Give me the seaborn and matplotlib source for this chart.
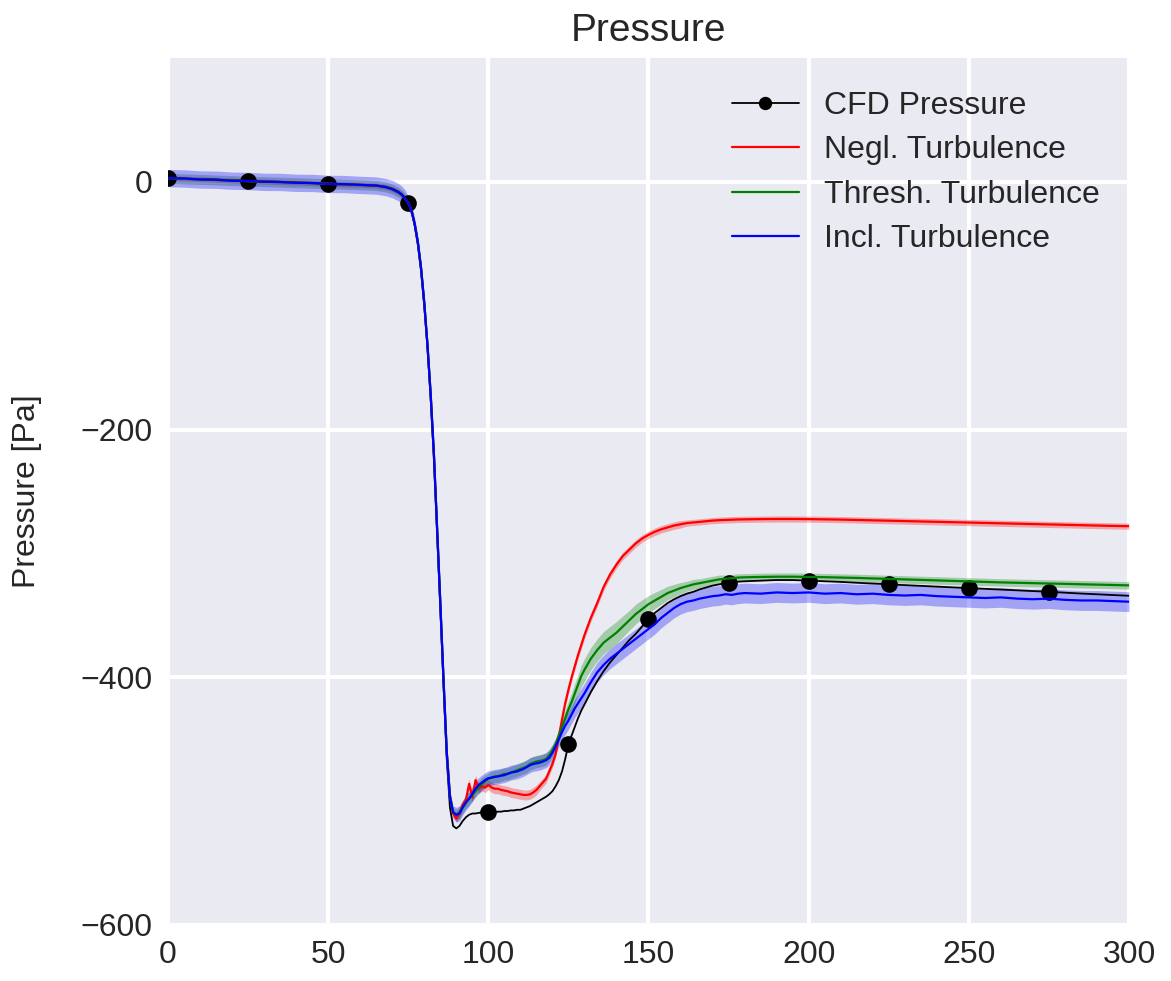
import matplotlib
matplotlib.use("Agg")
import matplotlib.pyplot as plt
import seaborn as sns
import pandas as pd

# Posição ao longo do domínio
x = [0, 5, 10, 15, 20, 25, 30, 35, 40, 45, 50, 55, 60, 65, 68, 70, 72, 73, 74,
     75, 76, 77, 78, 79, 80, 81, 82, 83, 84, 85, 86, 87, 88, 89, 90,
     91, 92, 93, 94, 95, 96, 97, 98, 99, 100, 101, 102, 103, 104, 105,
     106, 107, 108, 109, 110, 111, 112, 113, 114, 115, 116, 117, 118, 119, 120,
     121, 122, 123, 124, 125, 126, 127, 128, 129, 130,
     132, 134, 136, 138, 140, 142, 144, 146, 148, 150, 152, 154, 156, 158, 160,
     162, 164, 166, 168, 170, 172, 174, 175, 176, 178, 180,
     185, 190, 195, 200, 205, 210, 215, 220, 225, 230, 235, 240, 245, 250,
     255, 260, 265, 270, 275, 280, 285, 290, 295, 300]

cfd = [3, 2.6, 2.2, 1.8, 1.2, 0.8, 0.4, 0, -0.5, -1, -1.9, -2, -2.5, -3, -4, -5.5, -8, -10, -13,
       -17, -24, -35, -51, -72, -100, -134, -175, -222, -282, -343, -405, -465, -505, -520, -522,
       -520, -516, -513, -511, -510, -510, -509.5, -509, -509, -509, -509, -509, -508.5, -508.5, -508,
       -508, -507.5, -507.5, -507, -507, -506, -505, -504, -502.5, -501, -499.5, -498, -496.5, -494.5, -492,
       -488, -483, -476, -466, -454, -447, -440, -433, -427, -422,
       -412, -403, -395, -388, -382, -376, -370, -365, -359, -353, -348, -344, -340, -337, -334.5,
       -332.5, -331, -329, -327.5, -326, -325, -324, -323.6, -323.3, -322.8, -322.5,
       -322, -321.5, -321.5, -322, -322.5, -323, -323.7, -324.3, -325, -325.6, -326.2, -326.8, -327.4, -328,
       -328.6, -329.2, -329.8, -330.4, -331, -331.7, -332.4, -333, -333.6, -334.2]

negl = [3, 2.5, 2.1, 1.6, 1.1, 0.6, 0.2, -0.2, -0.6, -1, -1.6, -2, -2.4, -3, -4.2, -5.8, -8.5, -10.5, -13.5,
        -17, -23, -34, -49, -70, -98, -132, -172, -220, -280, -340, -402, -460, -495, -510, -514,
        -510, -503, -499, -486, -497, -483, -490, -488, -489, -487, -489, -490, -490, -491, -491.5,
        -492, -493, -493.5, -494, -494.5, -495, -495, -494.5, -493, -491, -488, -485, -482, -476, -470,
        -462, -448, -434, -421, -410, -400, -391, -382, -374, -366,
        -352, -340, -327, -317, -309, -302, -297, -292, -288, -285, -282.5, -280.5, -279, -277.5, -276.5,
        -275.5, -275, -274.5, -274, -273.5, -273.2, -273, -272.9, -272.8, -272.6, -272.5,
        -272.3, -272.2, -272.2, -272.3, -272.5, -272.7, -273, -273.3, -273.6, -273.9, -274.2, -274.5, -274.8, -275.1,
        -275.4, -275.7, -276, -276.3, -276.6, -276.9, -277.2, -277.5, -277.8, -278]

thresh = [3, 2.4, 2.0, 1.5, 1.0, 0.5, 0.1, -0.3, -0.7, -1.1, -1.6, -2, -2.4, -3, -4.2, -5.8, -8.5, -10.5, -13.5,
          -17, -23, -34, -49, -70, -98, -132, -172, -220, -280, -340, -402, -460, -496, -509, -511,
          -509, -505, -501, -498, -495, -492, -489, -486, -484, -482, -481, -480, -480, -479, -478,
          -478, -477, -476, -475, -474, -473, -472, -470, -469, -468, -467.5, -467, -466, -463, -459,
          -454, -447, -440, -433, -426, -420, -413, -406, -399, -394,
          -385, -378, -372, -368, -364, -359, -354, -349, -345, -341, -338, -335, -332, -330, -328,
          -326.5, -325, -324, -323, -322, -321, -320.5, -320.2, -320, -319.5, -319.3,
          -319, -318.8, -318.8, -319, -319.2, -319.5, -319.8, -320.2, -320.6, -321, -321.4, -321.8, -322.2, -322.6,
          -323, -323.4, -323.7, -324, -324.3, -324.6, -324.9, -325.2, -325.5, -325.8]

incl = [3, 2.7, 1.9, 1.7, 0.9, 0.7, 0.0, -0.1, -0.8, -0.9, -1.7, -1.8, -2.5, -3, -4.3, -5.9, -8.5, -10.5, -13.5,
        -17, -23, -34, -49, -70, -98, -132, -172, -220, -280, -340, -402, -460, -497, -509, -511,
        -510, -505, -501, -498, -494, -490, -487, -485, -483, -481.5, -481, -480.5, -480, -479.5, -479,
        -478, -477, -476.5, -476, -475, -474, -472.5, -471, -470, -469.5, -469, -468, -467, -465, -461,
        -456, -450, -444, -439, -435, -430, -425, -421, -417, -413,
        -404, -396, -390, -385, -381, -377, -373, -369, -365, -361, -357, -352, -348, -344, -341,
        -339, -338, -336.5, -335.5, -334.5, -334, -333, -333.2, -333.5, -332.5, -332,
        -332.5, -331.5, -332, -331.5, -332.5, -332, -333, -332.5, -333.5, -334, -333.5, -334.5, -335, -335.5,
        -336, -335.5, -336.5, -337, -336.5, -337.5, -338, -338, -338.5, -339]

# Meia largura das faixas de incerteza
negl_band = [2, 2, 2, 2, 2, 2, 2, 2, 2, 2, 2, 2, 2, 2, 2, 2, 2, 2, 2,
             2, 2, 2, 2, 2, 2, 2, 2, 2, 2, 2, 2, 2, 2, 2, 3,
             3, 3, 4, 4, 4, 4, 4, 4, 4, 4, 4, 4, 4, 4, 4,
             4, 4, 4, 4, 4, 4, 4, 4, 4, 4, 3.5, 3.5, 3.5, 3.5, 3,
             3, 3, 3, 3, 3, 3, 3, 3, 3, 3,
             3, 3, 3, 3, 3, 3, 3, 3, 3, 3, 3, 3, 3, 3, 3,
             2.5, 2.5, 2.5, 2.5, 2.5, 2.5, 2.5, 2.5, 2.5, 2.5, 2.5,
             2.5, 2.5, 2.5, 2.5, 2.5, 2.5, 2.5, 2.5, 2.5, 2.5, 2.5, 2.5, 2.5, 2.5,
             2.5, 2.5, 2.5, 2.5, 2.5, 2.5, 2.5, 2.5, 2.5, 2.5]
thresh_band = [4, 4, 4, 4, 4, 4, 4, 4, 4, 4, 4, 4, 4, 4, 4, 4, 4, 4, 4,
               3, 3, 3, 3, 3, 3, 3, 3, 3, 3, 3, 3, 3, 3, 3, 4,
               5, 5, 5, 5, 5, 5, 5, 5, 5, 5, 5, 5, 5, 5, 5,
               5, 5, 5, 5, 5, 5, 5, 5, 5, 5, 5, 5, 5, 5, 5,
               5, 5.5, 6, 6.5, 7, 7.5, 8, 8, 8.5, 9,
               9, 9, 9, 9, 9, 8.5, 8, 8, 7.5, 7, 6.5, 6, 5.5, 5, 4.5,
               4, 4, 3.5, 3.5, 3.5, 3.5, 3, 3, 3, 3, 3,
               3, 3, 3, 3, 3, 3, 3, 3, 3, 3, 3, 3, 3, 3,
               3, 3, 3, 3, 3, 3, 3, 3, 3, 3]
incl_band = [7, 7, 7, 7, 7, 7, 7, 7, 7, 7, 7, 7, 7, 7, 7, 7, 7, 7, 7,
             5, 5, 5, 5, 5, 5, 5, 5, 5, 5, 5, 5, 5, 5, 5, 6,
             6, 6, 6, 6, 6, 6, 6, 6, 6, 6, 6, 6, 6, 6, 6,
             6, 6, 6, 6, 6, 6, 6, 6, 6, 6, 6, 6, 6, 6, 6,
             6, 6, 6.5, 7, 7, 7, 7.5, 7.5, 8, 8,
             8, 8, 8, 8, 8, 8, 8, 8, 8, 8, 8, 8, 8, 8, 8,
             8, 8, 8, 8, 8, 8, 8, 8, 8, 8, 8,
             8, 8, 8, 8, 8, 8, 8, 8, 8, 8, 8, 8, 8, 8,
             8, 8, 8, 8, 8, 8, 8, 8, 8, 8]

cfd_marks = [x.index(v) for v in [0, 25, 50, 75, 100, 125, 150, 175, 200, 225, 250, 275]]

df = pd.DataFrame({'x': x, 'cfd': cfd, 'negl': negl, 'thresh': thresh, 'incl': incl})

sns.set_style("darkgrid", {"axes.facecolor": "#EAEAF2", "grid.color": "white"})
plt.rcParams['font.family'] = ['Liberation Sans', 'DejaVu Sans']
plt.rcParams['text.color'] = '#262626'
plt.rcParams['xtick.color'] = '#262626'
plt.rcParams['ytick.color'] = '#262626'
plt.rcParams['axes.labelcolor'] = '#262626'

fig = plt.figure(figsize=(11.71, 9.81), dpi=100)
ax = fig.add_axes([0.1435, 0.0571, 0.8206, 0.8838])
ax.grid(True, color='white', linewidth=3)

series = [('negl', negl_band, 'r', 'Negl. Turbulence'),
          ('thresh', thresh_band, 'g', 'Thresh. Turbulence'),
          ('incl', incl_band, 'b', 'Incl. Turbulence')]

sns.lineplot(data=df, x='x', y='cfd', color='k', lw=1.3, marker='o', markersize=12,
             markevery=cfd_marks, markeredgewidth=0, label='CFD Pressure', ax=ax, zorder=3)

for col, band, c, lab in series:
    lo = [v - b for v, b in zip(df[col], band)]
    hi = [v + b for v, b in zip(df[col], band)]
    ax.fill_between(df['x'], lo, hi, color=c, alpha=0.3, lw=0, zorder=2)
    sns.lineplot(data=df, x='x', y=col, color=c, lw=1.6, label=lab, ax=ax, zorder=4)

ax.set_xlim(0, 300)
ax.set_ylim(-600, 100)
ax.set_xticks([0, 50, 100, 150, 200, 250, 300])
ax.set_yticks([-600, -400, -200, 0])
ax.tick_params(labelsize=23, length=0, pad=11)
ax.set_xlabel('')
ax.set_ylabel('Pressure [Pa]', fontsize=23, labelpad=28)
ax.set_title('Pressure', fontsize=28, pad=12)
for s in ax.spines.values():
    s.set_visible(False)

ax.legend(loc='upper right', bbox_to_anchor=(1.0, 0.995), frameon=False, fontsize=23,
          handlelength=2.1, handletextpad=0.8, labelspacing=0.45, markerscale=0.8)

fig.savefig('out.png', dpi=100)
